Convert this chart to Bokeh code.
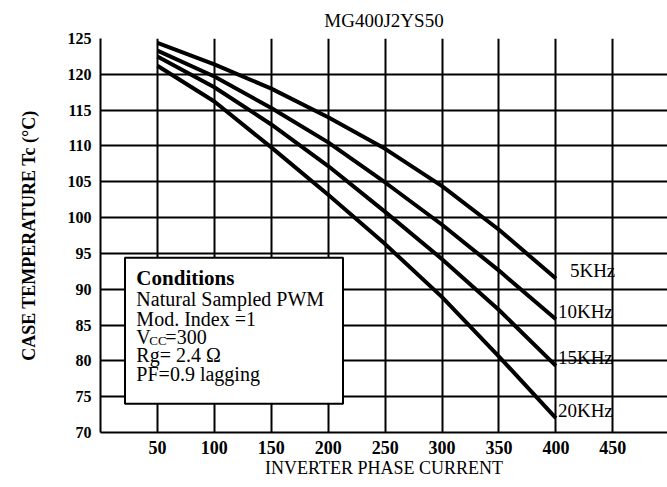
from bokeh.plotting import figure
from bokeh.models import Label, BoxAnnotation, FixedTicker, ColumnDataSource
from bokeh.core.properties import value
from bokeh.embed import file_html
from bokeh.resources import INLINE

# ---- data ----
current = [50, 100, 150, 200, 250, 300, 350, 400]
temp_5k = [124.4, 121.4, 118.0, 114.0, 109.6, 104.4, 98.3, 91.5]
temp_10k = [123.3, 119.7, 115.3, 110.5, 104.9, 99.0, 92.6, 85.8]
temp_15k = [122.5, 118.2, 113.0, 107.2, 100.8, 94.2, 87.1, 79.3]
temp_20k = [121.2, 116.2, 109.8, 103.2, 96.3, 88.9, 80.6, 72.0]
freq_labels = ["5KHz", "10KHz", "15KHz", "20KHz"]
x_ticks = [50, 100, 150, 200, 250, 300, 350, 400, 450]
y_ticks = [70, 75, 80, 85, 90, 95, 100, 105, 110, 115, 120, 125]
title_text = "MG400J2YS50"
x_title = "INVERTER PHASE CURRENT"
y_title = "CASE TEMPERATURE Tc (°C)"
conditions = ["Natural Sampled PWM", "Mod. Index =1", "Rg= 2.4 Ω", "PF=0.9 lagging"]

SERIF = "Liberation Serif"

p = figure(width=667, height=486, x_range=(0, 498), y_range=(70, 125),
           output_backend="svg", toolbar_location=None,
           min_border_left=100, min_border_right=0, min_border_top=38, min_border_bottom=54)
p.outline_line_color = None
p.background_fill_color = "white"

p.title.text = title_text
p.title.align = "center"
p.title.text_font = SERIF
p.title.text_font_size = "19px"
p.title.text_font_style = "normal"
p.title.text_color = "black"
p.title.standoff = 15

for ax in (p.xaxis[0], p.yaxis[0]):
    ax.axis_line_color = "black"
    ax.axis_line_width = 2
    ax.major_tick_out = 0
    ax.major_tick_in = 0
    ax.minor_tick_out = 0
    ax.minor_tick_in = 0
    ax.major_label_text_font = SERIF
    ax.major_label_text_font_style = "bold"
    ax.major_label_text_color = "black"
    ax.axis_label_text_font = SERIF
    ax.axis_label_text_color = "black"

p.xaxis.ticker = FixedTicker(ticks=x_ticks)
p.yaxis.ticker = FixedTicker(ticks=y_ticks)
p.xaxis.major_label_text_font_size = "18px"
p.yaxis.major_label_text_font_size = "16px"
p.xaxis.axis_label = x_title
p.yaxis.axis_label = y_title
p.xaxis.axis_label_text_font_size = "18px"
p.xaxis.axis_label_text_font_style = "normal"
p.yaxis.axis_label_text_font_size = "18px"
p.yaxis.axis_label_text_font_style = "bold"
p.xaxis.major_label_standoff = 8
p.yaxis.major_label_standoff = 9
p.xaxis.axis_label_standoff = 1
p.yaxis.axis_label_standoff = 26

p.xgrid.grid_line_color = "black"
p.ygrid.grid_line_color = "black"
p.xgrid.grid_line_width = 2
p.ygrid.grid_line_width = 2
p.xgrid.grid_line_alpha = 1
p.ygrid.grid_line_alpha = 1

series = [temp_5k, temp_10k, temp_15k, temp_20k]
for ys in series:
    p.line(current, ys, line_color="black", line_width=4, line_join="round")

# frequency labels at line ends
ends_x = [current[-1]] * len(series)
ends_y = [s[-1] for s in series]
src = ColumnDataSource(dict(x=ends_x, y=ends_y, t=freq_labels,
                            xo=[14, 2, 2, 2]))
p.text(x="x", y="y", text="t", source=src, x_offset="xo", y_offset=-8,
       text_font=value(SERIF), text_font_size="19px", text_align="left",
       text_baseline="middle", text_color="black")

# conditions box
box = BoxAnnotation(left=21.5, right=213, top=94.4, bottom=74.0,
                    fill_color="white", fill_alpha=1.0,
                    line_color="black", line_alpha=1.0, line_width=2,
                    level="annotation")
p.add_layout(box)

tx = 31.5
p.add_layout(Label(x=tx, y=91.5, text="Conditions", text_font=SERIF,
                   text_font_size="21px", text_font_style="bold",
                   text_baseline="middle", text_color="black"))
cond_y = [88.7, 85.9, 80.75, 78.1]
for t, yy in zip(conditions, cond_y):
    p.add_layout(Label(x=tx, y=yy, text=t, text_font=SERIF,
                       text_font_size="20px", text_baseline="middle",
                       text_color="black"))
# Vcc=300 with subscript
p.add_layout(Label(x=tx, y=83.4, text="V", text_font=SERIF, text_font_size="20px",
                   text_baseline="middle", text_color="black"))
p.add_layout(Label(x=tx, y=83.4, x_offset=13, y_offset=-4, text="CC", text_font=SERIF,
                   text_font_size="13px", text_baseline="middle", text_color="black"))
p.add_layout(Label(x=tx, y=83.4, x_offset=29, text="=300", text_font=SERIF,
                   text_font_size="20px", text_baseline="middle", text_color="black"))

open("out.html", "w").write(file_html(p, INLINE))
